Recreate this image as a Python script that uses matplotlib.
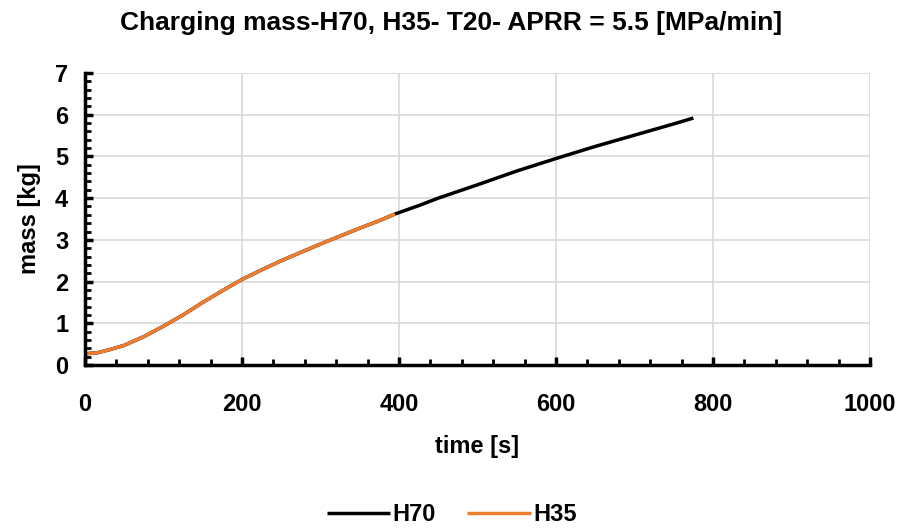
import matplotlib
matplotlib.use("Agg")
import matplotlib.pyplot as plt
from matplotlib.ticker import MultipleLocator

plt.rcParams['font.family'] = ['Liberation Sans', 'DejaVu Sans']
plt.rcParams['font.weight'] = 'bold'

t_h70 = [0, 15, 30, 50, 75, 100, 125, 150, 175, 200, 225, 250, 275, 300, 325, 350, 375, 395,
         425, 450, 475, 500, 550, 600, 650, 700, 750, 775]
m_h70 = [0.27, 0.29, 0.36, 0.47, 0.68, 0.93, 1.2, 1.5, 1.78, 2.05, 2.28, 2.5, 2.7, 2.9, 3.09, 3.28, 3.46, 3.62,
         3.82, 4.0, 4.16, 4.32, 4.65, 4.95, 5.24, 5.51, 5.78, 5.92]
t_h35 = [0, 15, 30, 50, 75, 100, 125, 150, 175, 200, 225, 250, 275, 300, 325, 350, 375, 395]
m_h35 = [0.27, 0.29, 0.36, 0.47, 0.68, 0.93, 1.2, 1.5, 1.78, 2.05, 2.28, 2.5, 2.7, 2.9, 3.09, 3.28, 3.46, 3.62]

title = "Charging mass-H70, H35- T20- APRR = 5.5 [MPa/min]"

fig = plt.figure(figsize=(9.03, 5.29), dpi=100)
ax = fig.add_axes([0.094, 0.31, 0.8695, 0.552])

ax.plot(t_h70, m_h70, color='black', lw=2.5, label='H70', solid_capstyle='butt')
ax.plot(t_h35, m_h35, color='#ED7D31', lw=2.5, label='H35', solid_capstyle='butt')

ax.set_xlim(0, 1000)
ax.set_ylim(0, 7)
ax.xaxis.set_major_locator(MultipleLocator(200))
ax.xaxis.set_minor_locator(MultipleLocator(40))
ax.yaxis.set_major_locator(MultipleLocator(1))
ax.yaxis.set_minor_locator(MultipleLocator(0.2))
ax.grid(True, which='major', color='#d9d9d9', lw=1.2)
ax.set_axisbelow(True)
for s in ['top', 'right']:
    ax.spines[s].set_visible(False)
for s in ['left', 'bottom']:
    ax.spines[s].set_linewidth(2.5)
    ax.spines[s].set_color('black')
ax.tick_params(which='major', direction='in', length=6, width=2.5, labelsize=17)
ax.tick_params(which='minor', direction='in', length=4, width=2)
ax.tick_params(axis='x', which='major', pad=20)
ax.tick_params(axis='y', which='major', pad=12)
for lab in ax.get_xticklabels() + ax.get_yticklabels():
    lab.set_fontweight('bold')

ax.set_xlabel('time [s]', fontsize=17, fontweight='bold', labelpad=14)
ax.set_ylabel('mass [kg]', fontsize=17, fontweight='bold', labelpad=10)
fig.suptitle(title, fontsize=19, fontweight='bold', y=0.979)

fig.legend(loc='lower center', ncol=2, frameon=False, fontsize=17,
           bbox_to_anchor=(0.5, -0.035), handlelength=2.7, columnspacing=1.3,
           handletextpad=0.1)

fig.savefig('out.png', dpi=100)
